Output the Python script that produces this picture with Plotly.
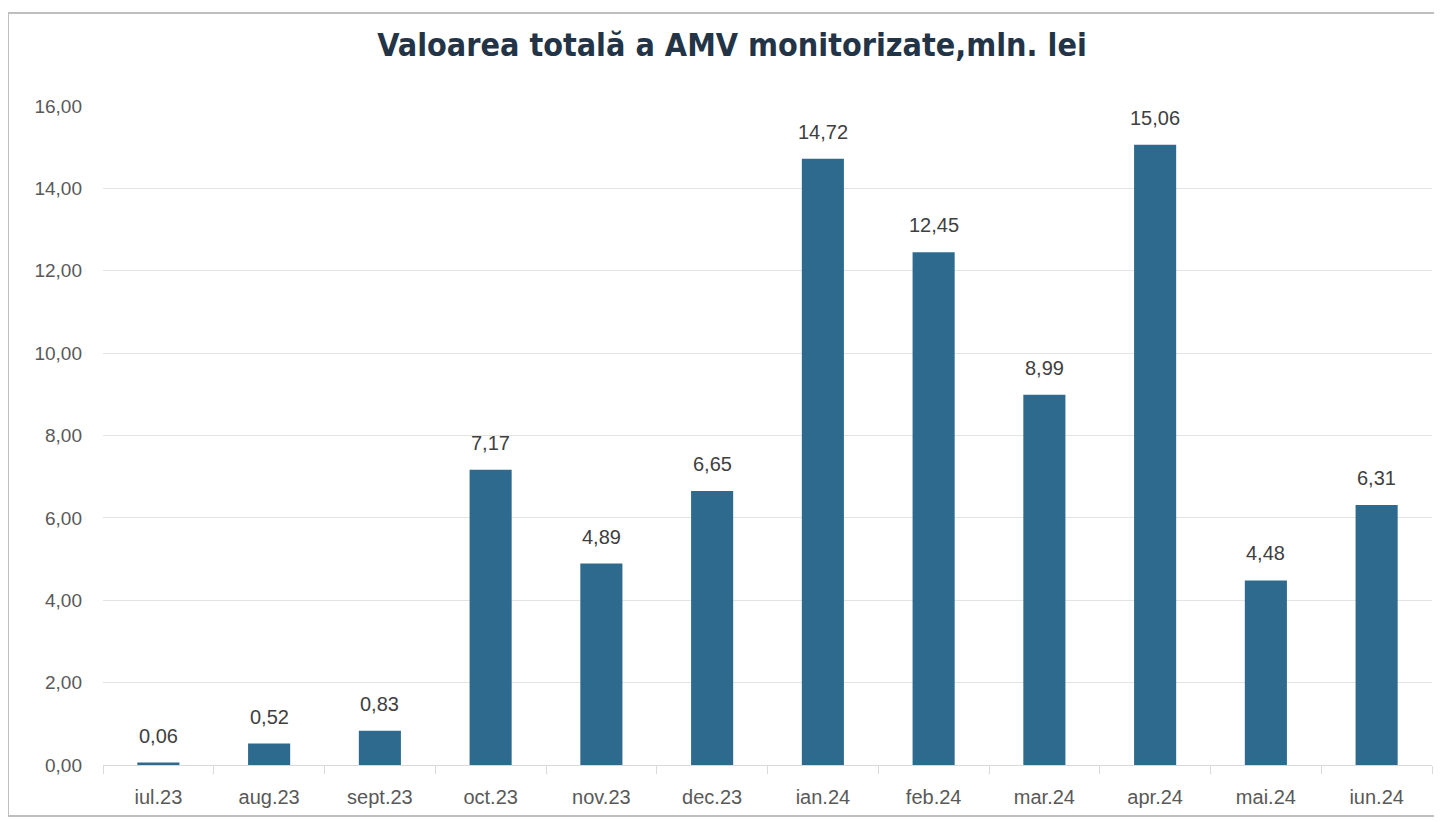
import plotly.graph_objects as go

categories = ["iul.23", "aug.23", "sept.23", "oct.23", "nov.23", "dec.23",
              "ian.24", "feb.24", "mar.24", "apr.24", "mai.24", "iun.24"]
values = [0.06, 0.52, 0.83, 7.17, 4.89, 6.65, 14.72, 12.45, 8.99, 15.06, 4.48, 6.31]
y_ticks = [0, 2, 4, 6, 8, 10, 12, 14, 16]
title_text = "Valoarea totală a AMV monitorizate,mln. lei"

# page body has an 8px margin, so the figure is sized/positioned to compensate
W, H = 1434, 814
L, R, T, B = 95, 10, 98, 57
pw, ph = W - L - R, H - T - B

fig = go.Figure()
fig.add_trace(go.Bar(
    x=categories, y=values,
    marker=dict(color="#2e6a8d", line=dict(width=0)),
    hoverinfo="x+y",
))

for c, v in zip(categories, values):
    fig.add_annotation(x=c, y=v, text=f"{v:.2f}".replace(".", ","),
                       showarrow=False, yanchor="bottom", yshift=14,
                       font=dict(family="Liberation Sans, Arial, sans-serif", size=20, color="#404040"))

fig.update_layout(
    width=W, height=H,
    paper_bgcolor="white", plot_bgcolor="white",
    separators=",.",
    margin=dict(l=L, r=R, t=T, b=B),
    bargap=0.62,
    showlegend=False,
    title=dict(text=title_text, x=724 / W, xref="container", xanchor="center",
               y=1 - 37 / H, yref="container", yanchor="middle",
               font=dict(family="DejaVu Sans Condensed, Liberation Sans, sans-serif",
                         size=32, color="#243447", weight="bold")),
    xaxis=dict(type="category", tickson="boundaries", ticks="outside", ticklen=8,
               tickcolor="#d9d9d9", showline=True, linecolor="#d9d9d9", linewidth=1,
               showgrid=False,
               tickfont=dict(family="Liberation Sans, Arial, sans-serif", size=20, color="#595959"),
               ticklabelstandoff=14),
    yaxis=dict(range=[0, 16], tickvals=y_ticks, tickformat=".2f",
               showgrid=True, gridcolor="#e3e3e3", gridwidth=1,
               zeroline=False, showline=False,
               tickfont=dict(family="Liberation Sans, Arial, sans-serif", size=19, color="#595959"),
               ticklabelstandoff=20),
    shapes=[dict(type="rect", xref="paper", yref="paper",
                 x0=(0 - L) / pw, x1=(1431 - L) / pw,
                 y0=(H - B - 808) / ph, y1=(H - B - 5) / ph,
                 line=dict(color="#bfbfbf", width=2), fillcolor="rgba(0,0,0,0)", layer="below")],
)

fig.write_html("out.html")
